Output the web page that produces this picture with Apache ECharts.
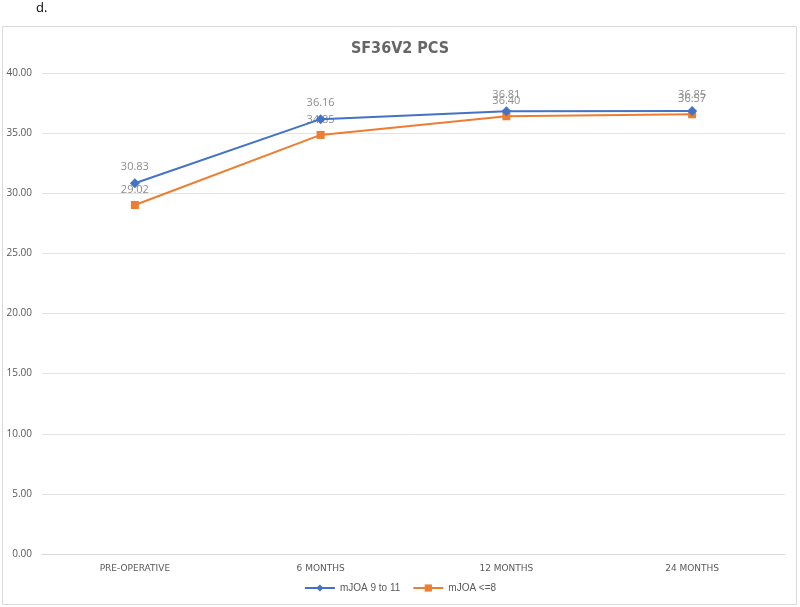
<!DOCTYPE html>
<html>
<head>
<meta charset="utf-8">
<script src="https://cdn.jsdelivr.net/npm/echarts@6/dist/echarts.min.js"></script>
<style>
  html, body { margin: 0; padding: 0; background: #fff; }
  #main { width: 800px; height: 607px; }
</style>
</head>
<body>
<div id="main"></div>
<script>
// 数据
var categories = ['PRE-OPERATIVE', '6 MONTHS', '12 MONTHS', '24 MONTHS'];
var mildValues = [30.83, 36.16, 36.81, 36.85];
var severeValues = [29.02, 34.85, 36.40, 36.57];
var seriesNames = ['mJOA 9 to 11', 'mJOA <=8'];

var myChart = echarts.init(document.getElementById('main'));

var labelStyle = {
  show: true,
  position: 'top',
  distance: 6,
  color: '#8c8c8c',
  fontSize: 11,
  fontFamily: 'Open Sans',
  formatter: function (p) { return p.value.toFixed(2); }
};

var option = {
  backgroundColor: '#fff',
  // 外框 + 左上角的 "d."
  graphic: [
    {
      type: 'rect',
      shape: { x: 2.5, y: 26.5, width: 794, height: 578 },
      style: { fill: 'none', stroke: '#d9d9d9', lineWidth: 1 },
      z: -1
    },
    {
      type: 'text',
      left: 36,
      top: 2,
      style: { text: 'd.', fill: '#000', font: '13px "Open Sans"' }
    }
  ],
  title: {
    text: 'SF36V2 PCS',
    left: 'center',
    top: 36,
    textStyle: {
      color: '#666666',
      fontSize: 16,
      fontWeight: 'bold',
      fontFamily: 'DejaVu Sans Condensed'
    }
  },
  legend: {
    bottom: 9,
    left: 'center',
    itemWidth: 30,
    itemHeight: 9,
    itemGap: 12,
    textStyle: { color: '#595959', fontSize: 10, fontFamily: 'Liberation Sans Narrow, Liberation Sans' },
    data: seriesNames
  },
  grid: { left: 42, right: 15, top: 73, bottom: 53 },
  xAxis: {
    type: 'category',
    data: categories,
    boundaryGap: true,
    axisLine: { lineStyle: { color: '#d9d9d9' } },
    axisTick: { show: false },
    axisLabel: {
      color: '#595959',
      fontSize: 9,
      margin: 10,
      fontFamily: 'DejaVu Sans'
    }
  },
  yAxis: {
    type: 'value',
    min: 0,
    max: 40,
    interval: 5,
    axisLine: { show: false },
    axisTick: { show: false },
    splitLine: { lineStyle: { color: '#e3e3e3' } },
    axisLabel: {
      color: '#595959',
      fontSize: 10,
      margin: 10,
      fontFamily: 'Open Sans',
      formatter: function (v) { return v.toFixed(2); }
    }
  },
  series: [
    {
      name: seriesNames[0],
      type: 'line',
      data: mildValues,
      symbol: 'diamond',
      symbolSize: 10,
      lineStyle: { color: '#4472c4', width: 2 },
      itemStyle: { color: '#4472c4' },
      label: labelStyle,
      z: 3
    },
    {
      name: seriesNames[1],
      type: 'line',
      data: severeValues,
      symbol: 'rect',
      symbolSize: 8,
      lineStyle: { color: '#ed7d31', width: 2 },
      itemStyle: { color: '#ed7d31' },
      label: labelStyle,
      z: 2
    }
  ]
};

myChart.setOption(option);
</script>
</body>
</html>
